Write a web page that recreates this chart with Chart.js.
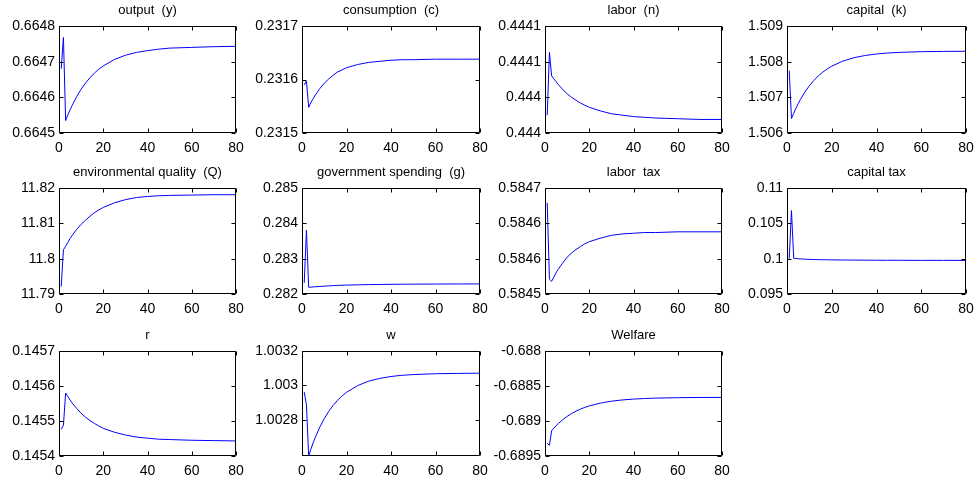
<!DOCTYPE html>
<html>
<head>
<meta charset="utf-8">
<script src="https://cdn.jsdelivr.net/npm/chart.js@4.4.1/dist/chart.umd.min.js"></script>
<style>
  html, body { margin: 0; padding: 0; background: #fff; }
  #fig { position: relative; width: 977px; height: 485px; overflow: hidden; }
  #fig canvas { position: absolute; }
</style>
</head>
<body>
<div id="fig"></div>
<script>
// ---- data ----
const periods = [1, 2, 3, 4, 5, 6, 8, 10, 12, 14, 16, 18, 20, 25, 30, 35, 40, 45, 50, 60, 70, 80];

const outputY = [0.66468, 0.664768, 0.664535, 0.664551, 0.664565, 0.664578, 0.664602, 0.664623, 0.66464, 0.664655, 0.664668,
  0.664679, 0.664688, 0.664706, 0.664718, 0.664726, 0.664731, 0.664735, 0.664738, 0.66474, 0.664742, 0.664743];
const consumptionC = [0.23159, 0.231597, 0.231548, 0.231557, 0.231564, 0.231571, 0.231583, 0.231593, 0.231601, 0.231608, 0.231614,
  0.231618, 0.231622, 0.231628, 0.231632, 0.231634, 0.231636, 0.231637, 0.231637, 0.231638, 0.231638, 0.231638];
const laborN = [0.443975, 0.444063, 0.44403, 0.444026, 0.444022, 0.444018, 0.444011, 0.444005, 0.444, 0.443996, 0.443992,
  0.443989, 0.443986, 0.443981, 0.443977, 0.443975, 0.443973, 0.443972, 0.443971, 0.44397, 0.443969, 0.443969];
const capitalK = [1.50775, 1.506405, 1.506556, 1.506695, 1.506823, 1.506941, 1.507149, 1.507325, 1.507474, 1.5076, 1.507707,
  1.507797, 1.507874, 1.508017, 1.508112, 1.508174, 1.508215, 1.508243, 1.50826, 1.50828, 1.508288, 1.508292];
const qualityQ = [11.7921, 11.8025, 11.8035, 11.8046, 11.8057, 11.8066, 11.8083, 11.8097, 11.8109, 11.812, 11.813,
  11.8138, 11.8145, 11.8158, 11.8167, 11.8173, 11.8176, 11.8178, 11.8179, 11.818, 11.8181, 11.8181];
const govSpendingG = [0.282314, 0.28381, 0.28219, 0.282195, 0.2822, 0.282205, 0.282214, 0.282222, 0.28223, 0.282237, 0.282243,
  0.282248, 0.282252, 0.28226, 0.282266, 0.28227, 0.282274, 0.282277, 0.282279, 0.282282, 0.282284, 0.282285];
const laborTax = [0.584629, 0.584521, 0.584518, 0.584524, 0.58453, 0.584535, 0.584544, 0.584552, 0.584558, 0.584563, 0.584567,
  0.584571, 0.584574, 0.584579, 0.584583, 0.584585, 0.584586, 0.584587, 0.584587, 0.584588, 0.584588, 0.584588];
const capitalTax = [0.1, 0.1068, 0.10005, 0.10002, 0.09999, 0.09997, 0.09993, 0.0999, 0.09988, 0.09986, 0.09985,
  0.09984, 0.09983, 0.09981, 0.0998, 0.09979, 0.09978, 0.09977, 0.09977, 0.09976, 0.09976, 0.09975];
const rateR = [0.145476, 0.145488, 0.14558, 0.14557, 0.14556, 0.145551, 0.145536, 0.145522, 0.145511, 0.145501, 0.145493,
  0.145486, 0.145479, 0.145468, 0.14546, 0.145454, 0.145451, 0.145448, 0.145447, 0.145445, 0.145444, 0.145443];
const wageW = [1.002961, 1.002888, 1.00259, 1.00263, 1.002666, 1.002699, 1.002758, 1.002807, 1.002849, 1.002884, 1.002914,
  1.002939, 1.00296, 1.002999, 1.003025, 1.003041, 1.003052, 1.003059, 1.003063, 1.003068, 1.00307, 1.003071];
const welfare = [-0.689321, -0.689346, -0.689139, -0.689102, -0.689068, -0.689037, -0.688982, -0.688934, -0.688894, -0.68886, -0.68883,
  -0.688806, -0.688784, -0.688745, -0.688717, -0.688699, -0.688687, -0.688679, -0.688673, -0.688667, -0.688664, -0.688663];

const xTicks = [0, 20, 40, 60, 80];

// y ticks + their printed labels (matlab rounds them to 4 digits)
const panels = [
  { title: 'output  (y)', data: outputY, min: 0.6645, max: 0.6648,
    ticks: [0.6645, 0.6646, 0.6647, 0.6648], labels: ['0.6645', '0.6646', '0.6647', '0.6648'] },
  { title: 'consumption  (c)', data: consumptionC, min: 0.2315, max: 0.2317,
    ticks: [0.2315, 0.2316, 0.2317], labels: ['0.2315', '0.2316', '0.2317'] },
  { title: 'labor  (n)', data: laborN, min: 0.44395, max: 0.4441,
    ticks: [0.44395, 0.444, 0.44405, 0.4441], labels: ['0.444', '0.444', '0.4441', '0.4441'] },
  { title: 'capital  (k)', data: capitalK, min: 1.506, max: 1.509,
    ticks: [1.506, 1.507, 1.508, 1.509], labels: ['1.506', '1.507', '1.508', '1.509'] },
  { title: 'environmental quality  (Q)', data: qualityQ, min: 11.79, max: 11.82,
    ticks: [11.79, 11.8, 11.81, 11.82], labels: ['11.79', '11.8', '11.81', '11.82'] },
  { title: 'government spending  (g)', data: govSpendingG, min: 0.282, max: 0.285,
    ticks: [0.282, 0.283, 0.284, 0.285], labels: ['0.282', '0.283', '0.284', '0.285'] },
  { title: 'labor  tax', data: laborTax, min: 0.5845, max: 0.58465,
    ticks: [0.5845, 0.58455, 0.5846, 0.58465], labels: ['0.5845', '0.5846', '0.5846', '0.5847'] },
  { title: 'capital tax', data: capitalTax, min: 0.095, max: 0.11,
    ticks: [0.095, 0.1, 0.105, 0.11], labels: ['0.095', '0.1', '0.105', '0.11'] },
  { title: 'r', data: rateR, min: 0.1454, max: 0.1457,
    ticks: [0.1454, 0.1455, 0.1456, 0.1457], labels: ['0.1454', '0.1455', '0.1456', '0.1457'] },
  { title: 'w', data: wageW, min: 1.00259, max: 1.0032,
    ticks: [1.0028, 1.003, 1.0032], labels: ['1.0028', '1.003', '1.0032'] },
  { title: 'Welfare', data: welfare, min: -0.6895, max: -0.688,
    ticks: [-0.6895, -0.689, -0.6885, -0.688], labels: ['-0.6895', '-0.689', '-0.6885', '-0.688'] }
];

// ---- layout of the 3x4 grid (plot box of each subplot) ----
const colLeft = [59, 302, 545, 787];
const colWidth = [177, 178, 177, 179];
const rowTop = [26, 188, 351];
const rowHeight = [107, 106, 105];
const PAD_L = 62, PAD_R = 30, PAD_T = 25, PAD_B = 22, EXTRA_B = 8;
const FONT = 'Liberation Sans, Arial, Helvetica, sans-serif';

// matlab style: black box with inward ticks on all four sides
const axesBox = {
  id: 'axesBox',
  afterDatasetsDraw(chart) {
    const { ctx, chartArea: a, scales: { x, y } } = chart;
    const L = Math.round(a.left) + 0.5, R = Math.round(a.right) - 0.5;
    const T = Math.round(a.top) + 0.5, B = Math.round(a.bottom) - 0.5;
    ctx.save();
    ctx.strokeStyle = '#000';
    ctx.lineWidth = 1;
    ctx.beginPath();
    ctx.rect(L, T, R - L, B - T);
    x.ticks.forEach(t => {
      const px = Math.round(x.getPixelForValue(t.value)) + 0.5;
      ctx.moveTo(px, B); ctx.lineTo(px, B - 4);
      ctx.moveTo(px, T); ctx.lineTo(px, T + 4);
    });
    y.ticks.forEach(t => {
      const py = Math.round(y.getPixelForValue(t.value)) + 0.5;
      ctx.moveTo(L, py); ctx.lineTo(L + 4, py);
      ctx.moveTo(R, py); ctx.lineTo(R - 4, py);
    });
    ctx.stroke();
    ctx.restore();
  }
};

const fig = document.getElementById('fig');

panels.forEach((p, i) => {
  const row = Math.floor(i / 4), col = i % 4;
  const w = colWidth[col], h = rowHeight[row];
  const cv = document.createElement('canvas');
  cv.width = w + PAD_L + PAD_R;
  cv.height = h + PAD_T + PAD_B + EXTRA_B;
  cv.style.left = (colLeft[col] - PAD_L) + 'px';
  cv.style.top = (rowTop[row] - PAD_T) + 'px';
  cv.style.width = cv.width + 'px';
  cv.style.height = cv.height + 'px';
  fig.appendChild(cv);

  new Chart(cv.getContext('2d'), {
    type: 'line',
    data: {
      datasets: [{
        data: periods.map((t, k) => ({ x: t, y: p.data[k] })),
        borderColor: '#0000ff',
        borderWidth: 1,
        pointRadius: 0,
        tension: 0,
        fill: false
      }]
    },
    options: {
      responsive: false,
      animation: false,
      devicePixelRatio: 1,
      layout: { padding: { left: 0, right: PAD_R, top: 0, bottom: EXTRA_B } },
      plugins: {
        legend: { display: false },
        tooltip: { enabled: false },
        title: {
          display: true,
          fullSize: false,   // centre over the plot box, not the canvas
          text: p.title,
          color: '#000',
          font: { family: FONT, size: 13, weight: 'normal', lineHeight: 1.2 },
          padding: { top: 2, bottom: 7.4 }
        }
      },
      scales: {
        x: {
          type: 'linear',
          min: 0, max: 80,
          grid: { display: false, drawTicks: false },
          border: { display: false },
          afterBuildTicks: s => { s.ticks = xTicks.map(v => ({ value: v })); },
          afterFit: s => { s.height = PAD_B; },
          ticks: { color: '#000', padding: 7, maxRotation: 0, font: { family: FONT, size: 14 } }
        },
        y: {
          type: 'linear',
          min: p.min, max: p.max,
          grid: { display: false, drawTicks: false },
          border: { display: false },
          afterBuildTicks: s => { s.ticks = p.ticks.map(v => ({ value: v })); },
          afterFit: s => { s.width = PAD_L; },
          ticks: {
            color: '#000', padding: 4, font: { family: FONT, size: 14 },
            callback: (v, k) => p.labels[k]
          }
        }
      }
    },
    plugins: [axesBox]
  });
});
</script>
</body>
</html>
